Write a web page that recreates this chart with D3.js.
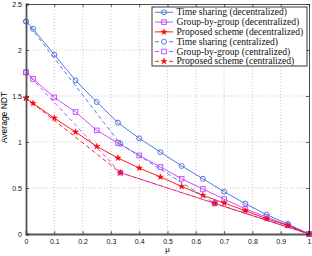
<!DOCTYPE html>
<html>
<head>
<meta charset="utf-8">
<script src="https://cdn.jsdelivr.net/npm/d3@7"></script>
<style>
  body { margin: 0; background: #fff; }
  #chart svg { display: block; }
</style>
</head>
<body>
<div id="chart"></div>
<script>
// decentralized curves, sampled on mu
var mu = [0, 0.025, 0.1, 0.175, 0.25, 0.325, 0.4, 0.475, 0.55, 0.625, 0.7, 0.775, 0.85, 0.925, 1];
var timeDec  = [2.31, 2.23, 1.95, 1.67, 1.435, 1.21, 1.04, 0.89, 0.74, 0.60, 0.46, 0.33, 0.21, 0.11, 0];
var groupDec = [1.757, 1.685, 1.485, 1.326, 1.126, 0.99, 0.854, 0.728, 0.601, 0.489, 0.38, 0.272, 0.185, 0.094, 0];
var propDec  = [1.478, 1.42, 1.26, 1.109, 0.952, 0.826, 0.717, 0.62, 0.517, 0.42, 0.337, 0.253, 0.166, 0.094, 0];

// centralized curves
var muCen = [0, 1/3, 2/3, 1];
var timeCen  = [2.31, 0.98, 0.333, 0];
var groupCen = [1.757, 0.667, 0.333, 0];
var propCen  = [1.478, 0.667, 0.333, 0];

var xTicks = [0, 0.1, 0.2, 0.3, 0.4, 0.5, 0.6, 0.7, 0.8, 0.9, 1];
var yTicks = [0, 0.5, 1, 1.5, 2, 2.5];

var seriesNames = [
  "Time sharing (decentralized)",
  "Group-by-group (decentralized)",
  "Proposed scheme (decentralized)",
  "Time sharing (centralized)",
  "Group-by-group (centralized)",
  "Proposed scheme (centralized)"
];

var ndtplot = function(options){

  var self = {};
  for (var key in options) {
    self[key] = options[key];
  }

  self.m = {left: 26, right: 3, top: 4, bottom: 22};
  self.w = self.width - self.m.left - self.m.right;
  self.h = self.height - self.m.top - self.m.bottom;

  self.init = function(){
    self.svg = d3.select("#" + self.parentId).append("svg")
      .attr("width", self.width)
      .attr("height", self.height);
    self.g = self.svg.append("g")
      .attr("transform", "translate(" + self.m.left + "," + self.m.top + ")");

    self.x = d3.scaleLinear().domain([0, 1]).range([0, self.w]);
    self.y = d3.scaleLinear().domain([0, 2.5]).range([self.h, 0]);
  };

  self.marker = function(sel, kind, color){
    if (kind == "circle") {
      sel.append("circle").attr("r", 2.5)
        .attr("fill", "none").attr("stroke", color).attr("stroke-width", 0.9);
    } else if (kind == "square") {
      sel.append("rect").attr("x", -2.3).attr("y", -2.3).attr("width", 4.6).attr("height", 4.6)
        .attr("fill", "none").attr("stroke", color).attr("stroke-width", 0.9);
    } else {
      sel.append("path").attr("d", d3.symbol().type(d3.symbolStar).size(12)())
        .attr("fill", color).attr("stroke", color).attr("stroke-width", 0.4);
    }
  };

  self.render = function(){
    var x = self.x, y = self.y, g = self.g;

    // dotted grid
    g.selectAll(".gx").data(xTicks.slice(1, -1)).enter().append("line")
      .attr("x1", d => x(d)).attr("x2", d => x(d)).attr("y1", 0).attr("y2", self.h)
      .attr("stroke", "#b0b0b0").attr("stroke-width", 0.7).attr("stroke-dasharray", "1,2");
    g.selectAll(".gy").data(yTicks.slice(1, -1)).enter().append("line")
      .attr("y1", d => y(d)).attr("y2", d => y(d)).attr("x1", 0).attr("x2", self.w)
      .attr("stroke", "#b0b0b0").attr("stroke-width", 0.7).attr("stroke-dasharray", "1,2");

    var curves = [
      {xs: mu, ys: timeDec, color: "#4169e1", m: "circle", dash: null},
      {xs: mu, ys: groupDec, color: "#bf40ff", m: "square", dash: null},
      {xs: mu, ys: propDec, color: "#ff0000", m: "star", dash: null},
      {xs: muCen, ys: timeCen, color: "#4169e1", m: "circle", dash: "4,3"},
      {xs: muCen, ys: groupCen, color: "#bf40ff", m: "square", dash: "4,3"},
      {xs: muCen, ys: propCen, color: "#ff0000", m: "star", dash: "4,3"}
    ];

    var line = d3.line().x(d => x(d[0])).y(d => y(d[1]));

    curves.forEach(function(c){
      var pts = c.xs.map((v, i) => [v, c.ys[i]]);
      g.append("path").datum(pts).attr("d", line)
        .attr("fill", "none").attr("stroke", c.color).attr("stroke-width", 0.9)
        .attr("stroke-dasharray", c.dash);
      var mk = g.selectAll(null).data(pts).enter().append("g")
        .attr("transform", d => "translate(" + x(d[0]) + "," + y(d[1]) + ")");
      self.marker(mk, c.m, c.color);
    });

    // axes, ticks pointing inward
    var ax = g.append("g").attr("transform", "translate(0," + self.h + ")")
      .call(d3.axisBottom(x).tickValues(xTicks).tickSize(-3).tickPadding(5).tickFormat(d3.format("")));
    var ay = g.append("g")
      .call(d3.axisLeft(y).tickValues(yTicks).tickSize(-3).tickPadding(4).tickFormat(d3.format("")));
    g.append("g").call(d3.axisTop(x).tickValues(xTicks).tickSize(-3).tickFormat(""));
    g.append("g").attr("transform", "translate(" + self.w + ",0)")
      .call(d3.axisRight(y).tickValues(yTicks).tickSize(-3).tickFormat(""));

    g.selectAll(".domain").attr("stroke", "#222").attr("stroke-width", 0.8);
    g.selectAll(".tick line").attr("stroke", "#222").attr("stroke-width", 0.7);
    [ax, ay].forEach(function(a){
      a.selectAll("text").attr("font-family", "Liberation Sans, Arial, sans-serif")
        .attr("font-size", 7).attr("fill", "#111");
    });
    // heavier left and bottom edges
    ax.select(".domain").attr("stroke", "#555").attr("stroke-width", 1.8);
    ay.select(".domain").attr("stroke", "#555").attr("stroke-width", 1.8);

    g.append("text").attr("x", self.w / 2).attr("y", self.h + 18)
      .attr("text-anchor", "middle").attr("font-family", "Liberation Sans, Arial, sans-serif")
      .attr("font-size", 8).text("μ");
    g.append("text").attr("transform", "translate(-19.5," + (self.h / 2 - 1.5) + ") rotate(-90)")
      .attr("text-anchor", "middle").attr("font-family", "Liberation Sans, Arial, sans-serif")
      .attr("font-size", 8.5).text("Average NDT");

    // legend
    var lg = self.svg.append("g").attr("transform", "translate(152,7)");
    lg.append("rect").attr("width", 155).attr("height", 59)
      .attr("fill", "#fff").attr("stroke", "#222").attr("stroke-width", 0.9);
    var labels = [];
    curves.forEach(function(c, i){
      var row = lg.append("g").attr("transform", "translate(0," + (5.3 + i * 9.8) + ")");
      row.append("line").attr("x1", 3).attr("x2", 21).attr("y1", 0).attr("y2", 0)
        .attr("stroke", c.color).attr("stroke-width", 0.9).attr("stroke-dasharray", c.dash);
      var mk = row.append("g").attr("transform", "translate(12,0)");
      if (c.dash) mk.append("rect").attr("x", -3.5).attr("y", -1).attr("width", 7).attr("height", 2).attr("fill", "#fff");
      self.marker(mk, c.m, c.color);
      labels.push(row.append("text").attr("x", 24.5).attr("y", 3)
        .attr("font-family", "Liberation Serif, Times New Roman, serif")
        .attr("font-size", 9).attr("fill", "#111").text(seriesNames[i]));
    });
    // stretch the serif labels to the width of the original legend text
    var longest = labels[2].node().getComputedTextLength();
    var fs = 9 * 127 / longest;
    labels.forEach(t => t.attr("font-size", Math.min(fs, 10.2)));
  };

  self.init();
  return self;
};

var chart = ndtplot({parentId: "chart", width: 312, height: 256});
chart.render();
</script>
</body>
</html>
